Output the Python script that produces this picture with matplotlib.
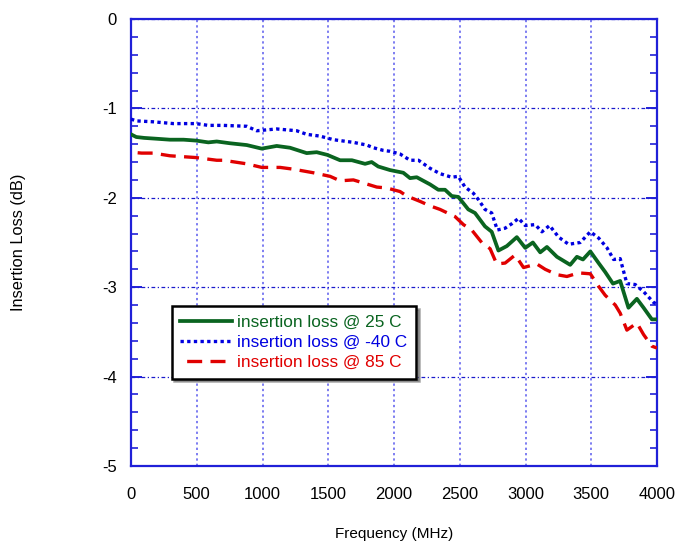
import matplotlib
matplotlib.use("Agg")
import matplotlib.pyplot as plt
import numpy as np
from matplotlib.ticker import MultipleLocator

plt.rcParams['font.family'] = ['Liberation Sans', 'DejaVu Sans']
plt.rcParams['axes.unicode_minus'] = False

# 25 C
f_25 = [0, 40, 100, 200, 296, 400, 494, 588, 652, 753, 880, 994, 1108, 1209, 1336, 1412, 1493,
        1590, 1680, 1780, 1830, 1880, 1970, 2071, 2122, 2173, 2274, 2337, 2388, 2439, 2489,
        2565, 2616, 2692, 2743, 2794, 2858, 2934, 2998, 3056, 3112, 3163, 3239, 3340, 3391,
        3437, 3493, 3556, 3606, 3665, 3720, 3783, 3847, 3898, 3961, 4000]
il_25 = [-1.29, -1.32, -1.33, -1.34, -1.35, -1.35, -1.36, -1.38, -1.37, -1.39, -1.41, -1.45, -1.42,
         -1.44, -1.50, -1.49, -1.52, -1.58, -1.58, -1.62, -1.60, -1.65, -1.69, -1.72, -1.78, -1.77,
         -1.85, -1.91, -1.91, -1.98, -1.99, -2.13, -2.17, -2.32, -2.38, -2.59, -2.54, -2.44, -2.56,
         -2.50, -2.61, -2.55, -2.66, -2.75, -2.66, -2.69, -2.60, -2.73, -2.83, -2.96, -2.93, -3.23,
         -3.13, -3.23, -3.36, -3.36]

# -40 C
f_m40 = [0, 43, 170, 322, 494, 588, 652, 702, 880, 956, 1108, 1260, 1336, 1437, 1539, 1691, 1793,
         1843, 1920, 1970, 2046, 2122, 2186, 2274, 2350, 2439, 2489, 2540, 2604, 2642, 2692, 2743,
         2786, 2845, 2896, 2947, 2998, 3074, 3125, 3183, 3252, 3328, 3416, 3493, 3556, 3620, 3670,
         3720, 3771, 3834, 3898, 3974, 4000]
il_m40 = [-1.12, -1.14, -1.15, -1.17, -1.17, -1.19, -1.19, -1.19, -1.20, -1.25, -1.23, -1.25, -1.29,
          -1.31, -1.35, -1.38, -1.41, -1.44, -1.47, -1.48, -1.51, -1.58, -1.58, -1.67, -1.73, -1.77,
          -1.76, -1.88, -1.95, -2.02, -2.13, -2.17, -2.36, -2.34, -2.29, -2.23, -2.31, -2.30, -2.38,
          -2.31, -2.44, -2.52, -2.50, -2.38, -2.45, -2.56, -2.69, -2.68, -2.96, -2.97, -3.05, -3.17,
          -3.19]

# 85 C
f_85 = [0, 81, 170, 296, 494, 652, 702, 880, 994, 1133, 1235, 1387, 1514, 1590, 1691, 1869, 1945,
        2046, 2097, 2198, 2274, 2350, 2464, 2528, 2591, 2667, 2731, 2781, 2845, 2921, 2985, 3086,
        3150, 3239, 3315, 3404, 3493, 3556, 3606, 3683, 3720, 3771, 3847, 3898, 3961, 4000]
il_85 = [-1.49, -1.50, -1.50, -1.53, -1.55, -1.58, -1.58, -1.62, -1.66, -1.66, -1.68, -1.72, -1.76,
         -1.81, -1.80, -1.88, -1.89, -1.93, -1.98, -2.04, -2.09, -2.13, -2.21, -2.30, -2.36, -2.50,
         -2.57, -2.74, -2.73, -2.64, -2.78, -2.74, -2.80, -2.86, -2.88, -2.84, -2.85, -2.99, -3.09,
         -3.20, -3.29, -3.48, -3.40, -3.53, -3.66, -3.68]

labels = ['insertion loss @ 25 C', 'insertion loss @ -40 C', 'insertion loss @ 85 C']
colors = ['#0a6420', '#0000e0', '#e00000']

fig = plt.figure(figsize=(6.78, 5.42), dpi=100)
ax = fig.add_axes([131/678, 1-466/542, 526/678, 447/542])

ax.plot(f_25, il_25, color=colors[0], lw=2.7, label=labels[0], solid_joinstyle='round', zorder=4)
ax.plot(f_m40, il_m40, color=colors[1], lw=2.4, linestyle=(0, (1, 1)), label=labels[1], zorder=4)
ax.plot(f_85, il_85, color=colors[2], lw=2.4, linestyle=(5, (4.5, 2.5)), label=labels[2], zorder=4)

ax.set_xlim(0, 4000)
ax.set_ylim(-5, 0)
ax.xaxis.set_major_locator(MultipleLocator(500))
ax.yaxis.set_major_locator(MultipleLocator(1))
ax.yaxis.set_minor_locator(MultipleLocator(0.2))

ax.xaxis.grid(True, linestyle=(0, (1.5, 2)), color='#5a5aee', lw=1.1)
ax.yaxis.grid(True, linestyle=(0, (3, 2, 1, 2)), color='#1a1acc', lw=0.9)
ax.set_axisbelow(True)

for s in ax.spines.values():
    s.set_color('#2020d8')
    s.set_linewidth(1.6)

ax.tick_params(axis='x', which='both', length=0, pad=15, labelsize=12)
ax.tick_params(axis='y', which='major', direction='in', length=8, width=1.4,
               color='#2020d8', left=True, right=True, pad=10, labelsize=12)
ax.tick_params(axis='y', which='minor', direction='in', length=5, width=1.2,
               color='#2020d8', left=True, right=True)

ax.set_xlabel('Frequency (MHz)', fontsize=11)
ax.set_ylabel('Insertion Loss (dB)', fontsize=11.8)
ax.xaxis.set_label_coords(0.5, -0.1365)
ax.yaxis.set_label_coords(-0.20, 0.5)

leg = ax.legend(loc='upper left', bbox_to_anchor=(0.0774, 0.358), fontsize=12.4,
                labelcolor='linecolor', frameon=True, fancybox=False, shadow=True,
                framealpha=1, edgecolor='black', borderpad=0.5, handlelength=3.0,
                handletextpad=0.3, labelspacing=0.3, borderaxespad=0)
leg.get_frame().set_linewidth(1.8)

fig.savefig('out.png', dpi=100)
